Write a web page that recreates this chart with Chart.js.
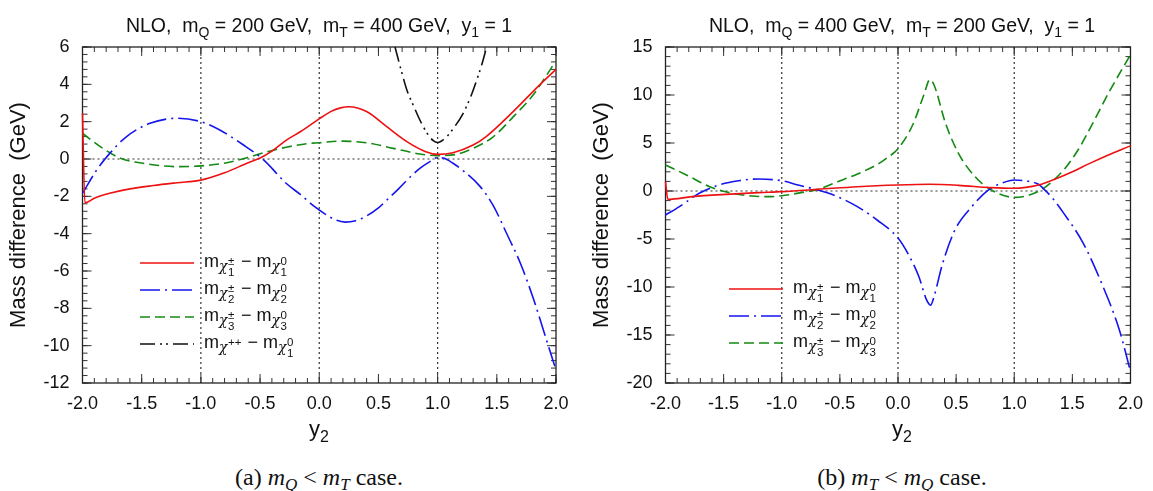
<!DOCTYPE html>
<html>
<head>
<meta charset="utf-8">
<script src="https://cdn.jsdelivr.net/npm/chart.js@4.4.1/dist/chart.umd.min.js"></script>
<style>
  body { margin:0; background:#fff; }
  #page { position:relative; width:1153px; height:491px; overflow:hidden;
          font-family:"Liberation Sans", Arial, Helvetica, sans-serif; color:#111; }
  canvas { position:absolute; left:0; top:0; }
  .ttl { position:absolute; width:520px; text-align:center; font-size:19.5px; line-height:22px; white-space:pre; }
  .ttl sub { font-size:14px; vertical-align:-5px; line-height:0; }
  .xt { position:absolute; width:60px; text-align:center; font-size:22px; line-height:26px; }
  .xt sub { font-size:16px; vertical-align:-6px; line-height:0; }
  .cap { position:absolute; width:400px; text-align:center; font-family:"Liberation Serif","DejaVu Serif",serif;
         font-size:24px; line-height:26px; white-space:nowrap; }
  .cap sub { font-size:17px; vertical-align:-5px; line-height:0; }
  .key { position:absolute; height:0; }
  .key svg { position:absolute; left:0; top:-6px; }
  .lab { position:absolute; top:-11px; font-size:18px; line-height:18px; white-space:nowrap; }
  .cx { font-family:"DejaVu Serif", serif; font-style:italic; font-size:14px; position:relative; top:4px; }
  .st { display:inline-block; position:relative; height:1px; font-family:"Liberation Sans", Arial, sans-serif; font-style:normal; }
  .sp, .sb { position:absolute; left:0.5px; font-size:11.5px; line-height:11px; }
  .sp { top:-14px; }
  .sb { top:-3px; }
</style>
</head>
<body>
<div id="page">
  <canvas id="c1" width="1153" height="420"></canvas>
  <canvas id="c2" width="1153" height="420"></canvas>
</div>
<script>
// ── DATA: (a) m_Q = 200 GeV, m_T = 400 GeV ─────────────
const aRedX   = [-2.0, -1.98, -1.9, -1.77, -1.6, -1.4, -1.2, -1.0, -0.8, -0.6, -0.5, -0.4, -0.28, -0.16, -0.08, 0.0, 0.1, 0.18, 0.25, 0.4, 0.57, 0.74, 0.9, 1.0, 1.13, 1.3, 1.41, 1.64, 1.86, 2.0];
const aRedY   = [2.45, -2.35, -2.1, -1.84, -1.6, -1.42, -1.27, -1.13, -0.74, -0.2, 0.05, 0.42, 1.0, 1.46, 1.8, 2.15, 2.55, 2.74, 2.8, 2.54, 1.73, 0.93, 0.39, 0.25, 0.34, 0.75, 1.2, 2.55, 3.96, 4.8];
const aBlueX  = [-2.0, -1.88, -1.77, -1.63, -1.43, -1.2, -1.0, -0.84, -0.64, -0.47, -0.28, -0.16, -0.05, 0.05, 0.14, 0.22, 0.3, 0.4, 0.5, 0.57, 0.67, 0.77, 0.85, 0.935, 1.0, 1.05, 1.13, 1.22, 1.36, 1.47, 1.58, 1.7, 1.81, 1.92, 2.0];
const aBlueY  = [-1.84, -0.59, 0.3, 1.19, 1.91, 2.18, 2.0, 1.55, 0.75, -0.05, -1.3, -1.9, -2.5, -2.95, -3.27, -3.38, -3.32, -3.05, -2.62, -2.2, -1.6, -0.95, -0.5, -0.14, 0.08, 0.05, -0.23, -0.65, -1.48, -2.5, -3.95, -5.6, -7.5, -9.7, -11.3];
const aGreenX = [-2.0, -1.85, -1.68, -1.49, -1.2, -1.0, -0.78, -0.61, -0.44, -0.28, -0.08, 0.0, 0.175, 0.4, 0.625, 0.85, 1.0, 1.16, 1.3, 1.47, 1.64, 1.81, 1.87, 2.0];
const aGreenY = [1.38, 0.66, 0.04, -0.23, -0.41, -0.37, -0.2, 0.07, 0.39, 0.63, 0.84, 0.87, 0.96, 0.87, 0.57, 0.27, 0.18, 0.25, 0.57, 1.19, 2.27, 3.45, 4.0, 5.27];
const aBlackX = [0.64, 0.69, 0.74, 0.8, 0.85, 0.91, 0.963, 1.0, 1.03, 1.076, 1.14, 1.216, 1.28, 1.33, 1.375, 1.414];
const aBlackY = [6.0, 4.8, 3.7, 2.8, 2.09, 1.4, 0.98, 0.88, 0.95, 1.19, 1.7, 2.45, 3.35, 4.23, 5.1, 6.0];

// ── DATA: (b) m_Q = 400 GeV, m_T = 200 GeV ─────────────
const bRedX   = [-2.0, -1.98, -1.77, -1.48, -1.2, -1.0, -0.69, -0.35, 0.0, 0.27, 0.52, 0.8, 1.0, 1.1, 1.2, 1.3, 1.37, 1.5, 1.65, 1.8, 2.0];
const bRedY   = [0.97, -0.87, -0.59, -0.35, -0.17, -0.07, 0.17, 0.45, 0.63, 0.7, 0.59, 0.35, 0.28, 0.38, 0.6, 1.0, 1.32, 2.0, 2.88, 3.7, 4.7];
const bBlueX  = [-2.0, -1.88, -1.71, -1.54, -1.37, -1.2, -1.0, -0.86, -0.69, -0.52, -0.35, -0.18, 0.0, 0.1, 0.18, 0.24, 0.265, 0.28, 0.31, 0.38, 0.49, 0.635, 0.776, 0.9, 1.0, 1.1, 1.2, 1.26, 1.34, 1.425, 1.594, 1.764, 1.905, 2.0];
const bBlueY  = [-2.5, -1.63, -0.24, 0.63, 1.07, 1.25, 1.07, 0.63, 0.1, -0.59, -1.63, -3.02, -4.9, -6.84, -8.93, -11.18, -11.75, -11.9, -11.0, -7.71, -4.06, -1.63, 0.1, 0.85, 1.15, 1.05, 0.75, 0.15, -0.9, -2.3, -5.45, -9.97, -14.5, -18.8];
const bGreenX = [-2.0, -1.82, -1.62, -1.45, -1.26, -1.115, -1.0, -0.833, -0.69, -0.52, -0.353, -0.18, -0.1, 0.0, 0.127, 0.225, 0.274, 0.31, 0.409, 0.52, 0.663, 0.804, 1.0, 1.228, 1.425, 1.55, 1.651, 1.82, 2.0];
const bGreenY = [2.71, 1.67, 0.45, -0.17, -0.52, -0.59, -0.49, -0.17, 0.17, 0.97, 1.75, 2.75, 3.4, 4.4, 6.9, 10.1, 11.6, 11.04, 7.05, 3.93, 1.49, 0.1, -0.66, 0.1, 2.19, 4.3, 6.5, 10.4, 14.2];

// ── TEXT ───────────────────────────────────────────────
const titles   = ['NLO,  m<sub>Q</sub> = 200 GeV,  m<sub>T</sub> = 400 GeV,  y<sub>1</sub> = 1',
                  'NLO,  m<sub>Q</sub> = 400 GeV,  m<sub>T</sub> = 200 GeV,  y<sub>1</sub> = 1'];
const captions = ['(a) <i>m<sub>Q</sub></i> &lt; <i>m<sub>T</sub></i> case.',
                  '(b) <i>m<sub>T</sub></i> &lt; <i>m<sub>Q</sub></i> case.'];
// [sub, sup] of first chi, [sub, sup] of second chi
const aKeys = [['1', '±', '1', '0'], ['2', '±', '2', '0'], ['3', '±', '3', '0'], ['', '++', '1', '0']];
const bKeys = [['1', '±', '1', '0'], ['2', '±', '2', '0'], ['3', '±', '3', '0']];

// ── STYLE ──────────────────────────────────────────────
const FONT  = '"Liberation Sans", Arial, Helvetica, sans-serif';
const RED = '#ee1111', BLUE = '#1515ee', GREEN = '#138a13', BLACK = '#111111';
const DASH  = { red: [], blue: [20, 5, 2, 5], green: [10, 5], black: [15, 5, 2, 4, 2, 5] };

function series(xs, ys, color, dash) {
  return {
    data: xs.map((x, i) => ({ x, y: ys[i] })),
    borderColor: color, borderDash: dash, borderWidth: 1.6,
    pointRadius: 0, cubicInterpolationMode: 'monotone', fill: false, clip: 3
  };
}

// frame, inward ticks (top/bottom/left/right) and dotted reference lines
const framePlugin = {
  id: 'frame',
  beforeDatasetsDraw(chart, args, o) {
    const { ctx, chartArea: a, scales: { x, y } } = chart;
    ctx.save();
    ctx.strokeStyle = '#333'; ctx.lineWidth = 1.2; ctx.setLineDash([2, 3]);
    ctx.beginPath();
    o.vLines.forEach(v => { const p = x.getPixelForValue(v); ctx.moveTo(p, a.top); ctx.lineTo(p, a.bottom); });
    o.hLines.forEach(v => { const p = y.getPixelForValue(v); ctx.moveTo(a.left, p); ctx.lineTo(a.right, p); });
    ctx.stroke();
    ctx.setLineDash([]);

    ctx.strokeStyle = '#333'; ctx.lineWidth = 1;
    ctx.beginPath();
    const ticks = (scale, step, len) => {
      const n = Math.round((scale.max - scale.min) / step);
      for (let i = 0; i <= n; i++) {
        const p = scale.getPixelForValue(scale.min + i * step);
        if (scale.axis === 'x') {
          ctx.moveTo(p, a.bottom); ctx.lineTo(p, a.bottom - len);
          ctx.moveTo(p, a.top);    ctx.lineTo(p, a.top + len);
        } else {
          ctx.moveTo(a.left, p);  ctx.lineTo(a.left + len, p);
          ctx.moveTo(a.right, p); ctx.lineTo(a.right - len, p);
        }
      }
    };
    ticks(x, o.xMajor, 9); ticks(x, o.xMinor, 5);
    ticks(y, o.yMajor, 9); ticks(y, o.yMinor, 5);
    ctx.stroke();

    ctx.strokeStyle = '#222'; ctx.lineWidth = 1.3;
    ctx.strokeRect(a.left, a.top, a.right - a.left, a.bottom - a.top);
    ctx.restore();
  }
};

function makeChart(id, padL, padR, yMin, yMax, yStep, yMinor, datasets) {
  return new Chart(document.getElementById(id), {
    type: 'line',
    data: { datasets },
    plugins: [framePlugin],
    options: {
      responsive: false, animation: false,
      layout: { padding: { left: padL, right: padR, top: 47, bottom: 0 } },
      plugins: {
        legend: { display: false }, tooltip: { enabled: false },
        frame: { vLines: [-1, 0, 1], hLines: [0], xMajor: 0.5, xMinor: 0.1, yMajor: yStep, yMinor }
      },
      scales: {
        x: {
          type: 'linear', min: -2, max: 2,
          grid: { display: false, drawTicks: false }, border: { display: false },
          ticks: { stepSize: 0.5, autoSkip: false, maxRotation: 0, padding: 10, color: '#111',
                   font: { family: FONT, size: 18 }, callback: v => v.toFixed(1) },
          afterFit: s => { s.height = 37; }
        },
        y: {
          min: yMin, max: yMax,
          grid: { display: false, drawTicks: false }, border: { display: false },
          ticks: { stepSize: yStep, padding: 13, color: '#111', font: { family: FONT, size: 18 } },
          title: { display: true, text: 'Mass difference  (GeV)', color: '#111',
                   font: { family: FONT, size: 22 }, padding: { top: 6, bottom: 0 } },
          afterFit: s => { s.width = 82.5; }
        }
      }
    }
  });
}

makeChart('c1', 0, 597, -12, 6, 2, 0.4, [
  series(aRedX, aRedY, RED, DASH.red),
  series(aBlueX, aBlueY, BLUE, DASH.blue),
  series(aGreenX, aGreenY, GREEN, DASH.green),
  series(aBlackX, aBlackY, BLACK, DASH.black)
]);
makeChart('c2', 583, 15, -20, 15, 5, 1, [
  series(bRedX, bRedY, RED, DASH.red),
  series(bBlueX, bBlueY, BLUE, DASH.blue),
  series(bGreenX, bGreenY, GREEN, DASH.green)
]);

// ── HTML text: titles, x titles, captions, keys ───────
const page = document.getElementById('page');
function put(cls, html, cx, cy, w, h) {
  const d = document.createElement('div');
  d.className = cls; d.innerHTML = html;
  d.style.left = (cx - w / 2) + 'px'; d.style.top = (cy - h / 2) + 'px';
  page.appendChild(d);
}
const centers = [319, 902];
centers.forEach((cx, i) => {
  put('ttl', titles[i], cx, 25, 520, 22);
  put('xt', 'y<sub>2</sub>', cx, 429, 60, 26);
  put('cap', captions[i], cx, 477, 400, 26);
});

function chi(sub, sup) {
  const w = Math.max(sub.length, sup.length) * 6.5 + 2;
  return `<span class="cx">χ<span class="st" style="width:${w}px"><span class="sp">${sup}</span><span class="sb">${sub}</span></span></span>`;
}
function addKey(left, top, color, dash, k) {
  const d = document.createElement('div');
  d.className = 'key'; d.style.left = left + 'px'; d.style.top = top + 'px';
  d.innerHTML = `<svg width="54" height="12"><line x1="0" y1="6" x2="54" y2="6" stroke="${color}" stroke-width="1.6" stroke-dasharray="${dash.join(' ')}"/></svg>` +
    `<span class="lab" style="left:64px">m${chi(k[0], k[1])} − m${chi(k[2], k[3])}</span>`;
  page.appendChild(d);
}
const aStyles = [[RED, DASH.red], [BLUE, DASH.blue], [GREEN, DASH.green], [BLACK, DASH.black]];
aKeys.forEach((k, i) => addKey(140, 263 + i * 27, aStyles[i][0], aStyles[i][1], k));
bKeys.forEach((k, i) => addKey(729, 289 + i * 27, aStyles[i][0], aStyles[i][1], k));
</script>
</body>
</html>
